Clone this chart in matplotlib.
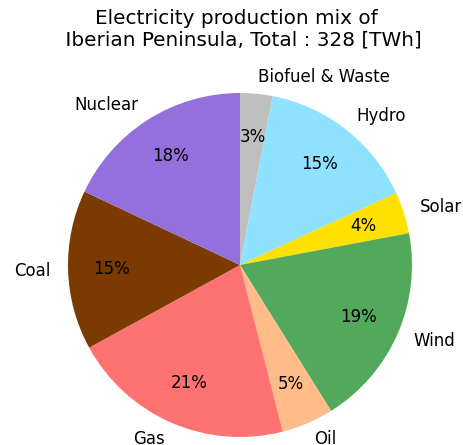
import matplotlib
matplotlib.use("Agg")
import matplotlib.pyplot as plt

labels = ["Biofuel & Waste", "Hydro", "Solar", "Wind", "Oil", "Gas", "Coal", "Nuclear"]
values_twh = [10.0, 49.5, 12.8, 62.6, 16.0, 69.0, 49.2, 59.0]
colors = ["#bfbfbf", "#8ee1ff", "#ffe100", "#53a95b", "#ffbb88", "#ff7272", "#7a3a00", "#9370db"]
total = 328
title = "Electricity production mix of \n Iberian Peninsula, Total : %d [TWh]" % total

plt.rcParams['font.size'] = 12
fig = plt.figure(figsize=(4.63, 4.45), dpi=100)
ax = fig.add_axes([25 / 463, (445 - 480) / 445, 430 / 463, 430 / 445])
ax.pie(values_twh, labels=labels, colors=colors, autopct="%1.0f%%",
       startangle=90, counterclock=False, pctdistance=0.75, labeldistance=1.1)
ax.set_title(title, pad=1.7)
fig.savefig("out.png", dpi=100)
